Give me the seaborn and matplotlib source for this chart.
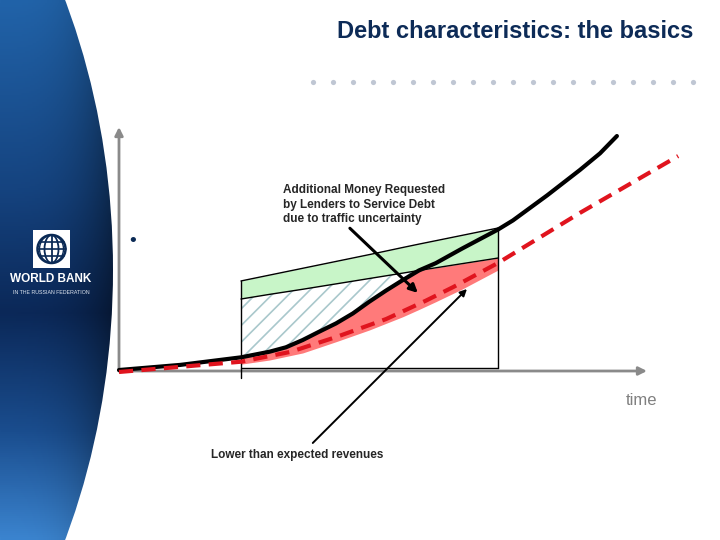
import matplotlib
matplotlib.use('Agg')
import matplotlib.pyplot as plt
import numpy as np
import seaborn as sns
from matplotlib.colors import LinearSegmentedColormap
from matplotlib.patches import Ellipse, Rectangle, Circle

# expected revenues (black curve)
time_expected = [0, 1.16, 2.31, 2.85, 3.16, 3.48, 3.79, 4.11, 4.43, 4.74, 5.06, 5.37, 5.68,
                 6.00, 6.50, 7.18, 7.46, 8.11, 8.73, 9.11, 9.43]
revenue_expected = [0.04, 0.25, 0.56, 0.79, 0.97, 1.27, 1.61, 1.95, 2.36, 2.84, 3.30, 3.72, 4.12,
                    4.42, 5.02, 5.80, 6.17, 7.20, 8.24, 8.92, 9.63]

# lower than expected revenues (red dashed)
time_actual = [0, 2.31, 3.24, 4.11, 5.06, 5.81, 6.33, 7.18, 8.73, 10.59]
revenue_actual = [-0.04, 0.38, 0.78, 1.39, 2.13, 2.88, 3.44, 4.43, 6.48, 8.81]

# debt service period (box)
box_time = [2.31, 2.85, 3.48, 4.11, 4.74, 5.37, 5.68, 6.00, 6.50, 7.18]
box_expected = [0.56, 0.79, 1.27, 1.95, 2.84, 3.72, 4.12, 4.42, 5.02, 5.80]
debt_base = [2.95, 3.14, 3.35, 3.57, 3.79, 4.01, 4.12, 4.23, 4.40, 4.63]
debt_margin = [3.69, 3.93, 4.21, 4.49, 4.77, 5.06, 5.20, 5.34, 5.56, 5.86]
shortfall_low = [0.28, 0.45, 0.74, 1.20, 1.68, 2.22, 2.52, 2.84, 3.36, 4.14]
box_bottom = 0.12
box_tick = -0.29

title = 'Debt characteristics: the basics'
note_lenders = 'Additional Money Requested\nby Lenders to Service Debt\ndue to traffic uncertainty'
note_revenue = 'Lower than expected revenues'

sns.set_style('white')
plt.rcParams['font.family'] = ['Liberation Sans', 'DejaVu Sans']
plt.rcParams['hatch.linewidth'] = 1.2

fig = plt.figure(figsize=(7.2, 5.4), dpi=100)

# slide background
bg = fig.add_axes([0, 0, 1, 1])
bg.set_xlim(0, 720)
bg.set_ylim(540, 0)
bg.axis('off')

band_cmap = LinearSegmentedColormap.from_list('band', [
    (0.0, '#2163a9'), (0.35, '#15437f'), (0.58, '#0b2858'), (0.8, '#1a4d8e'), (1.0, '#3b84cf')])
yy = np.linspace(0, 1, 540)[:, None]
xx = np.linspace(0, 1, 120)[None, :]
rgb = band_cmap(np.repeat(yy, 120, axis=1))[..., :3] * (1 - 0.5 * xx ** 3)[..., None]
im = bg.imshow(rgb, extent=(0, 120, 540, 0), aspect='auto', zorder=0)
im.set_clip_path(Ellipse((-327, 270), 880, 1190, transform=bg.transData))

# logo
bg.add_patch(Rectangle((33, 230), 37, 38, facecolor='white', edgecolor='none', zorder=2))
navy = '#0b2a55'
bg.add_patch(Circle((51.5, 249), 14, fill=False, edgecolor=navy, lw=1.8, zorder=3))
bg.add_patch(Ellipse((51.5, 249), 14, 28, fill=False, edgecolor=navy, lw=1.3, zorder=3))
bg.add_patch(Ellipse((51.5, 249), 24, 28, fill=False, edgecolor=navy, lw=1.0, zorder=3))
bg.plot([51.5, 51.5], [235, 263], color=navy, lw=1.3, zorder=3)
for yl, hw in [(249, 14), (242, 12), (256, 12)]:
    bg.plot([51.5 - hw, 51.5 + hw], [yl, yl], color=navy, lw=1.2, zorder=3)
bg.text(51, 279, 'WORLD BANK', ha='center', va='center', fontsize=8.5,
        fontweight='bold', color='white', zorder=3)
bg.text(51, 292, 'IN THE RUSSIAN FEDERATION', ha='center', va='center', fontsize=3.8,
        color='#dfe6f0', zorder=3)

bg.text(693, 32, title, ha='right', va='center', fontsize=17,
        fontweight='bold', color='#0d2b57')
bg.scatter(np.arange(313, 694, 20), np.full(20, 82), s=14, color='#bfc6d3', lw=0)

# chart
ax = fig.add_axes([119 / 720, (540 - 371) / 540, 528 / 720, 244 / 540])
ax.set_xlim(0, 10)
ax.set_ylim(0, 10)
ax.axis('off')
ax.patch.set_alpha(0)

axis_style = dict(arrowstyle='-|>', color='#8a8a8a', lw=2, mutation_scale=12, shrinkA=0, shrinkB=0)
ax.annotate('', xy=(0, 10), xytext=(0, 0), arrowprops=axis_style, annotation_clip=False)
ax.annotate('', xy=(10, 0), xytext=(0, 0), arrowprops=axis_style, annotation_clip=False)

ax.fill_between(box_time, debt_base, debt_margin, color='#c8f5c8', lw=0, zorder=1)
ax.fill_between(box_time, box_expected, debt_base,
                where=np.array(box_expected) <= np.array(debt_base), interpolate=True,
                facecolor='white', edgecolor='#a9c8cc', hatch='//', lw=0, zorder=1)
ax.fill_between(box_time, shortfall_low, np.minimum(box_expected, debt_base),
                color='#ff7a7a', lw=0, zorder=2)

ax.plot(box_time, debt_base, color='black', lw=1, zorder=3)
ax.plot(box_time, debt_margin, color='black', lw=1, zorder=3)
ax.plot([box_time[0], box_time[0]], [box_tick, debt_margin[0]], color='black', lw=1, zorder=3, clip_on=False)
ax.plot([box_time[-1], box_time[-1]], [box_bottom, debt_margin[-1]], color='black', lw=1, zorder=3)
ax.plot([box_time[0], box_time[-1]], [box_bottom, box_bottom], color='black', lw=1, zorder=3)

sns.lineplot(x=time_expected, y=revenue_expected, ax=ax, color='black', lw=3,
             errorbar=None, sort=False, zorder=5)
sns.lineplot(x=time_actual, y=revenue_actual, ax=ax, color='#e0141e', lw=3,
             linestyle=(0, (3.4, 2.0)), errorbar=None, sort=False, zorder=6)
for line in ax.lines:
    line.set_clip_on(False)
    line.set_solid_joinstyle('round')

ax.annotate(note_lenders, xy=(5.66, 3.20), xytext=(3.11, 7.66), fontsize=8.5, fontweight='bold',
            va='top', ha='left', linespacing=1.27, annotation_clip=False, zorder=7,
            arrowprops=dict(arrowstyle='-|>', color='black', lw=2.2, mutation_scale=12,
                            shrinkA=0, shrinkB=0, relpos=(0.39, 0.0)))
ax.annotate('', xy=(6.59, 3.36), xytext=(3.67, -2.95), annotation_clip=False, zorder=7,
            arrowprops=dict(arrowstyle='-|>', color='black', lw=1.4, mutation_scale=10,
                            shrinkA=0, shrinkB=0))
ax.text(1.74, -3.44, note_revenue, fontsize=8.5, fontweight='bold', va='center', ha='left')
ax.text(9.89, -1.19, 'time', fontsize=12, color='#808080', ha='center', va='center')
ax.text(0.265, 5.29, '\u2022', fontsize=14, color=navy, ha='center', va='center')

fig.savefig('out.png', dpi=100)
